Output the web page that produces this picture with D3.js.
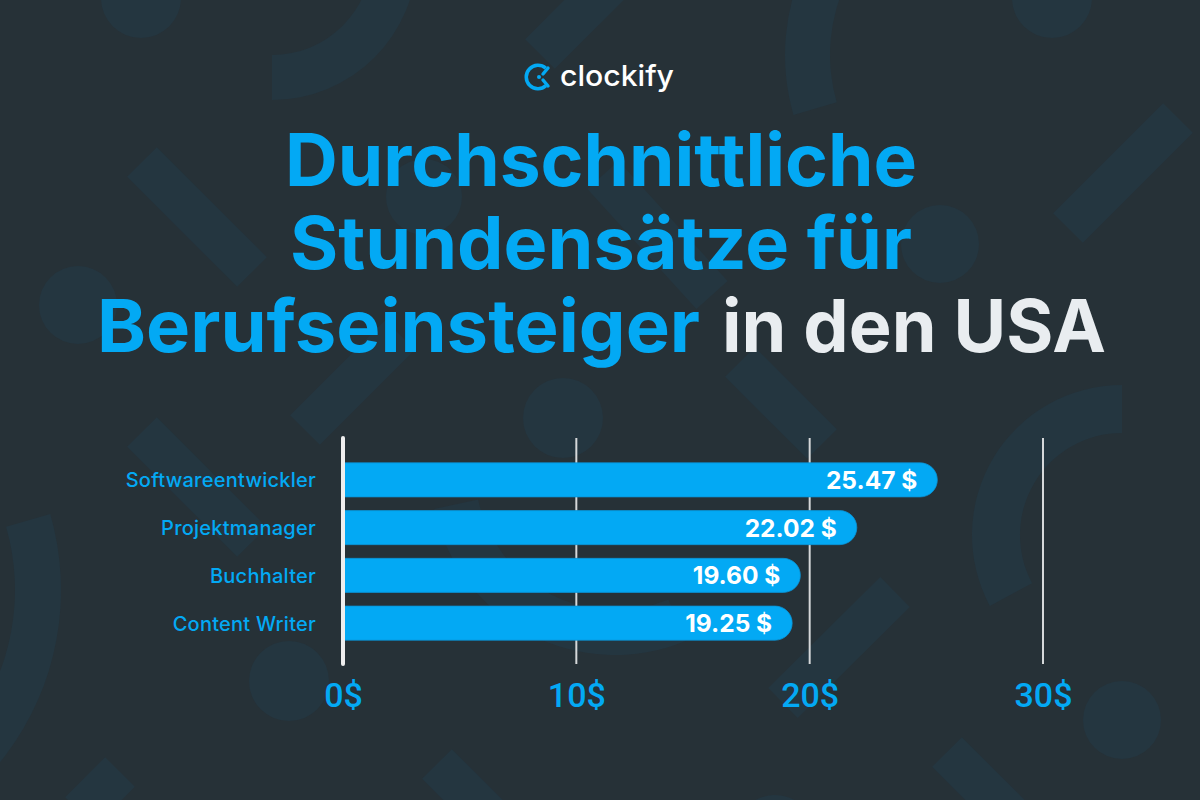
<!DOCTYPE html>
<html>
<head>
<meta charset="utf-8">
<script src="https://cdn.jsdelivr.net/npm/d3@7"></script>
<style>
  html, body { margin: 0; padding: 0; background: #263137; }
  svg { display: block; }
</style>
</head>
<body>
<svg id="chart" width="1200" height="800"></svg>
<script>

// Data

var categories = ["Softwareentwickler", "Projektmanager", "Buchhalter", "Content Writer"];
var rates = [25.47, 22.02, 19.60, 19.25];
var valueLabels = ["25.47 $", "22.02 $", "19.60 $", "19.25 $"];
var ticks = [0, 10, 20, 30];
var tickLabels = ["0$", "10$", "20$", "30$"];
var titleLines = ["Durchschnittliche", "Stundensätze für", "Berufseinsteiger"];
var titleTail = "in den USA";

// Colours

var bg = "#263137";
var shapeColor = "#243640";
var blue = "#03a9f4";
var white = "#e9edf0";

var svg = d3.select("#chart");

svg.append("rect")
	.attr("width", 1200)
	.attr("height", 800)
	.attr("fill", bg);

// Background decoration (faint clock pieces)

var deco = svg.append("g").attr("fill", shapeColor).attr("stroke", shapeColor);

var decoCircles = [
	[141, -2, 40], [78, 305, 39], [424, 197, 38], [940, 244, 39], [1052, -2, 40],
	[563, 418, 40], [289, 681, 40], [1122, 720, 39], [775, 835, 40]
];

deco.selectAll("circle")
	.data(decoCircles)
	.enter().append("circle")
	.attr("stroke", "none")
	.attr("cx", function(d) { return d[0]; })
	.attr("cy", function(d) { return d[1]; })
	.attr("r", function(d) { return d[2]; });

var decoBars = [
	[142, 162, 252, 272], [142, 432, 252, 542], [1178, 118, 1068, 228], [540, 54, 625, -31],
	[305, 430, 400, 335], [740, 362, 822, 444], [895, 592, 783, 703], [947, 752, 1030, 835],
	[437, 764, 500, 827], [603, 175, 712, 295], [120, 772, 80, 812]
];

deco.selectAll("line")
	.data(decoBars)
	.enter().append("line")
	.attr("stroke-width", 42)
	.attr("x1", function(d) { return d[0]; })
	.attr("y1", function(d) { return d[1]; })
	.attr("x2", function(d) { return d[2]; })
	.attr("y2", function(d) { return d[3]; });

var decoRings = [
	[272, -45, 100, 145, Math.PI / 2, Math.PI],
	[1000, 55, 170, 215, 4.43, 5.9],
	[1122, 535, 102, 150, 4.22, 2 * Math.PI],
	[-213, 590, 228, 274, 1.29, Math.PI],
	[615, 470, 140, 185, 2.75, 4.5]
];

var ringArc = d3.arc();

deco.selectAll("path")
	.data(decoRings)
	.enter().append("path")
	.attr("stroke", "none")
	.attr("transform", function(d) { return "translate(" + d[0] + "," + d[1] + ")"; })
	.attr("d", function(d) {
		return ringArc({ innerRadius: d[2], outerRadius: d[3], startAngle: d[4], endAngle: d[5] });
	});

// Logo

var logo = svg.append("g").attr("transform", "translate(538,77)");

logo.append("path")
	.attr("fill", blue)
	.attr("d", d3.arc()({ innerRadius: 10, outerRadius: 13.5, startAngle: 2.4, endAngle: 7.0 }));

logo.append("path")
	.attr("fill", "none")
	.attr("stroke", blue)
	.attr("stroke-width", 3.4)
	.attr("stroke-linecap", "round")
	.attr("d", "M10,-9 L5,-3 M5,3 L10,9");

logo.append("circle")
	.attr("cx", 1)
	.attr("cy", 0)
	.attr("r", 2)
	.attr("fill", blue);

svg.append("text")
	.attr("x", 560)
	.attr("y", 86)
	.attr("textLength", 114)
	.attr("lengthAdjust", "spacingAndGlyphs")
	.attr("fill", "#ffffff")
	.style("font-family", "Inter, 'Noto Sans', sans-serif")
	.style("font-weight", 500)
	.style("font-size", "29px")
	.text("clockify");

// Title

var titleFont = "Inter, 'Noto Sans', sans-serif";

var titleSpecs = [
	{ text: titleLines[0], x: 285, y: 186, w: 632, color: blue },
	{ text: titleLines[1], x: 290, y: 269, w: 622, color: blue },
	{ text: titleLines[2], x: 97, y: 352, w: 603, color: blue },
	{ text: titleTail, x: 722, y: 352, w: 384, color: white }
];

svg.append("g").selectAll("text")
	.data(titleSpecs)
	.enter().append("text")
	.attr("x", function(d) { return d.x; })
	.attr("y", function(d) { return d.y; })
	.attr("textLength", function(d) { return d.w; })
	.attr("lengthAdjust", "spacingAndGlyphs")
	.attr("fill", function(d) { return d.color; })
	.style("font-family", titleFont)
	.style("font-weight", 700)
	.style("font-size", "73px")
	.text(function(d) { return d.text; });

// Scales

var x = d3.scaleLinear()
	.domain([0, 30])
	.range([343, 1043]);

var y = d3.scaleBand()
	.domain(categories)
	.range([456, 647])
	.paddingInner(0.287)
	.paddingOuter(0.1435);

var gridTop = 438;
var gridBottom = 664;

// Gridlines

svg.append("g").selectAll("line")
	.data(ticks.filter(function(t) { return t > 0; }))
	.enter().append("line")
	.attr("x1", function(d) { return x(d); })
	.attr("x2", function(d) { return x(d); })
	.attr("y1", gridTop)
	.attr("y2", gridBottom)
	.attr("stroke", "#d5d8da")
	.attr("stroke-width", 2);

// Bars

function barPath(x0, x1, top, h) {
	var r = h / 2;
	return "M" + x0 + "," + top + "H" + (x1 - r) +
		"A" + r + "," + r + " 0 0 1 " + (x1 - r) + "," + (top + h) +
		"H" + x0 + "Z";
}

var data = categories.map(function(c, i) {
	return { name: c, value: rates[i], label: valueLabels[i] };
});

var bars = svg.append("g");

bars.selectAll("path")
	.data(data)
	.enter().append("path")
	.attr("fill", blue)
	.attr("stroke", "#0a93d6")
	.attr("stroke-width", 0.8)
	.attr("d", function(d) { return barPath(x(0), x(d.value), y(d.name), y.bandwidth()); });

bars.selectAll("text")
	.data(data)
	.enter().append("text")
	.attr("x", function(d) { return x(d.value) - 20; })
	.attr("y", function(d) { return y(d.name) + y.bandwidth() / 2 + 9; })
	.attr("text-anchor", "end")
	.attr("fill", "#ffffff")
	.style("font-family", "Inter, 'Noto Sans', sans-serif")
	.style("font-weight", 700)
	.style("font-size", "24.5px")
	.text(function(d) { return d.label; });

// Zero line

svg.append("line")
	.attr("x1", x(0))
	.attr("x2", x(0))
	.attr("y1", gridTop)
	.attr("y2", gridBottom)
	.attr("stroke", "#eeeeee")
	.attr("stroke-width", 4)
	.attr("stroke-linecap", "round");

// Category labels

var yAxis = d3.axisLeft(y).tickSize(0).tickPadding(0);

var yAxisG = svg.append("g")
	.attr("transform", "translate(" + (x(0) - 27) + ",0)")
	.call(yAxis);

yAxisG.select(".domain").remove();

yAxisG.selectAll("text")
	.attr("fill", blue)
	.attr("dy", "0.38em")
	.style("font-family", "Inter, 'Noto Sans', sans-serif")
	.style("font-weight", 500)
	.style("font-size", "20px")
	.style("letter-spacing", "0.25px");

// Value axis labels

var xAxis = d3.axisBottom(x)
	.tickValues(ticks)
	.tickSize(0)
	.tickPadding(0)
	.tickFormat(function(d, i) { return tickLabels[i]; });

var xAxisG = svg.append("g")
	.attr("transform", "translate(0,707)")
	.call(xAxis);

xAxisG.select(".domain").remove();

xAxisG.selectAll("text")
	.attr("fill", blue)
	.attr("y", 0)
	.attr("dy", 0)
	.style("font-family", "Roboto, 'Noto Sans', sans-serif")
	.style("font-weight", 500)
	.style("font-size", "34px");

</script>
</body>
</html>
